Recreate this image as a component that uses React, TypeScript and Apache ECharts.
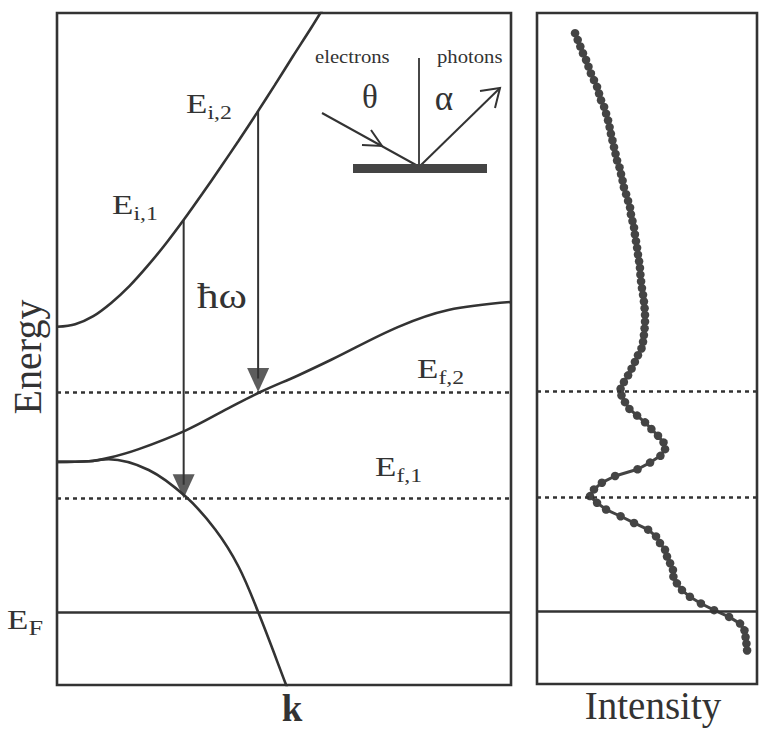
import { useEffect, useRef } from 'react';
import * as echarts from 'echarts';

// Band structure E(k): points read along each band
const upperBandK = [0, 4, 8, 12, 16, 20, 24, 28, 32, 36, 40, 44, 48, 52, 56, 60];
const upperBandE = [53.3, 53.7, 54.9, 56.9, 59.4, 62.4, 65.7, 69.3, 73.1, 77.0, 81.0, 85.1, 89.3, 93.6, 97.8, 102.2];

const middleBandK = [0, 7, 11.4, 18, 28.4, 37.8, 44.8, 53.2, 60.4, 75.2, 86.2, 100];
const middleBandE = [33.2, 33.3, 33.8, 35.1, 37.9, 41.2, 43.6, 46.1, 48.4, 53.3, 55.8, 57.0];

const lowerBandK = [0, 7, 11.4, 20.2, 28.4, 34.9, 40, 44.4, 50.3, 51];
const lowerBandE = [33.2, 33.3, 33.6, 32.0, 28.0, 23.1, 17.6, 10.7, 0.3, -1];

// Final-state energies (E_f,2 and E_f,1) and the Fermi level
const finalStateLevels = [43.6, 27.8];
const fermiLevel = 10.9;

// Radiative transitions ħω: k position, initial and final energy
const transitionK = [27.9, 44.3];
const transitionFrom = [69.2, 85.4];
const transitionTo = [27.8, 43.6];

// Measured spectrum: intensity versus energy
const spectrumEnergy = [
  97, 96, 95, 94, 93, 92, 91, 90, 89, 88,
  87, 86, 85, 84, 83, 82, 81, 80, 79, 78,
  77, 76, 75, 74, 73, 72, 71, 70, 69, 68,
  67, 66, 65, 64, 63, 62, 61, 60, 59, 58,
  57, 56, 55, 54, 53, 52, 51, 50, 49, 48,
  47, 46, 45, 44, 43, 42, 41, 40, 39, 38,
  37, 36, 35, 34, 33, 32, 31, 30, 29, 28,
  27, 26, 25, 24, 23, 22, 21, 20, 19, 18,
  17, 16, 15, 14, 13, 12, 11, 10, 9, 8,
  7, 6, 5,
];
const spectrumIntensity = [
  17.3, 18.5, 19.7, 20.9, 22.3, 23.4, 24.5, 25.9, 27.3, 28.2,
  29.1, 30.5, 31.4, 32.3, 33.0, 33.6, 34.3, 35.0, 35.7, 36.4,
  37.5, 38.2, 38.9, 39.5, 40.5, 41.4, 42.3, 42.7, 43.4, 44.1,
  44.5, 45.0, 45.5, 45.9, 46.4, 46.8, 47.0, 47.3, 47.7, 48.2,
  48.6, 48.9, 49.1, 49.1, 48.9, 48.6, 48.2, 47.5, 45.9, 44.5,
  43.0, 41.4, 39.5, 38.0, 38.4, 40.0, 42.0, 45.5, 49.1, 52.0,
  55.0, 57.5, 58.2, 56.1, 51.4, 45.7, 35.5, 29.5, 25.9, 24.1,
  27.3, 31.4, 38.0, 44.1, 50.5, 54.1, 55.9, 58.2, 59.1, 60.5,
  61.8, 62.0, 63.6, 65.9, 69.5, 74.5, 80.5, 87.3, 92.3, 94.3,
  94.8, 95.2, 95.5,
];

const INK = '#333333';
const SERIF = '"Liberation Serif", "Times New Roman", serif';

const zip = (a: number[], b: number[]) => a.map((v, i) => [v, b[i]]);

function levelLabel(x: number, y: number, sub: string, subSize = 19) {
  return {
    type: 'text',
    x,
    y,
    scaleX: 1.25,
    style: {
      text: `{e|E}{s|${sub}}`,
      fill: INK,
      align: 'left',
      verticalAlign: 'middle',
      rich: {
        e: { fontFamily: SERIF, fontSize: 28, lineHeight: 36, fill: INK },
        s: { fontFamily: SERIF, fontSize: subSize, lineHeight: 19, verticalAlign: 'bottom', fill: INK },
      },
    },
  };
}

function buildOption() {
  const bandLine = (data: number[][], smooth: number) => ({
    type: 'line',
    xAxisIndex: 0,
    yAxisIndex: 0,
    data,
    smooth,
    symbol: 'none',
    clip: true,
    lineStyle: { color: INK, width: 2.6 },
    silent: true,
  });

  const levelMarks = {
    silent: true,
    symbol: ['none', 'none'],
    label: { show: false },
    data: [
      ...finalStateLevels.map((v) => ({
        yAxis: v,
        lineStyle: { color: INK, width: 2.5, type: [4, 4] },
      })),
      { yAxis: fermiLevel, lineStyle: { color: INK, width: 2.6, type: 'solid' } },
    ],
  };

  const transitionShafts = transitionK.map((k, i) => ({
    type: 'line',
    xAxisIndex: 0,
    yAxisIndex: 0,
    data: [
      [k, transitionFrom[i]],
      [k, transitionTo[i] + 2],
    ],
    symbol: 'none',
    lineStyle: { color: INK, width: 2 },
    silent: true,
  }));

  const axisOff = (gridIndex: number) => ({
    type: 'value',
    gridIndex,
    min: 0,
    max: 100,
    show: false,
  });

  return {
    animation: false,
    backgroundColor: '#ffffff',
    grid: [
      { left: 57, top: 13, width: 454, height: 672, show: true, borderColor: INK, borderWidth: 2.6 },
      { left: 537, top: 13, width: 220, height: 671, show: true, borderColor: INK, borderWidth: 2.6 },
    ],
    xAxis: [axisOff(0), axisOff(1)],
    yAxis: [axisOff(0), axisOff(1)],
    series: [
      { ...bandLine(zip(upperBandK, upperBandE), 0.3), markLine: levelMarks },
      bandLine(zip(middleBandK, middleBandE), 0.35),
      bandLine(zip(lowerBandK, lowerBandE), 0.35),
      ...transitionShafts,
      {
        type: 'scatter',
        xAxisIndex: 0,
        yAxisIndex: 0,
        data: zip(transitionK, transitionTo),
        symbol: 'triangle',
        symbolSize: [22, 24],
        symbolRotate: 180,
        symbolOffset: [0, -12],
        itemStyle: { color: INK },
        silent: true,
      },
      {
        type: 'line',
        xAxisIndex: 1,
        yAxisIndex: 1,
        data: zip(spectrumIntensity, spectrumEnergy),
        symbol: 'circle',
        symbolSize: 8.5,
        showAllSymbol: true,
        lineStyle: { color: '#444444', width: 3 },
        itemStyle: { color: '#444444' },
        markLine: levelMarks,
        silent: true,
      },
    ],
    graphic: [
      levelLabel(186, 104, 'i,2'),
      levelLabel(112, 205, 'i,1'),
      levelLabel(417, 369, 'f,2'),
      levelLabel(375, 467, 'f,1'),
      levelLabel(7, 620, 'F', 21),
      {
        type: 'text',
        x: 197,
        y: 296,
        scaleX: 1.2,
        style: { text: '\u0127\u03c9', fontFamily: SERIF, fontSize: 36, fill: INK, align: 'left', verticalAlign: 'middle' },
      },
      {
        type: 'text',
        x: 27,
        y: 357,
        rotation: Math.PI / 2,
        style: { text: 'Energy', fontFamily: SERIF, fontSize: 40, fill: INK, align: 'center', verticalAlign: 'middle' },
      },
      {
        type: 'text',
        x: 292,
        y: 708,
        style: { text: 'k', fontFamily: SERIF, fontSize: 37, fontWeight: 'bold', fill: INK, align: 'center', verticalAlign: 'middle' },
      },
      {
        type: 'text',
        x: 653,
        y: 705,
        style: { text: 'Intensity', fontFamily: SERIF, fontSize: 39, fill: INK, align: 'center', verticalAlign: 'middle' },
      },
      // Inset: electrons in, photons out, from a surface
      {
        type: 'text',
        x: 315,
        y: 57,
        scaleX: 1.15,
        style: { text: 'electrons', fontFamily: SERIF, fontSize: 18, fill: INK, align: 'left', verticalAlign: 'middle' },
      },
      {
        type: 'text',
        x: 437,
        y: 57,
        scaleX: 1.15,
        style: { text: 'photons', fontFamily: SERIF, fontSize: 18, fill: INK, align: 'left', verticalAlign: 'middle' },
      },
      {
        type: 'text',
        x: 370,
        y: 97,
        style: { text: '\u03b8', fontFamily: SERIF, fontSize: 33, fill: INK, align: 'center', verticalAlign: 'middle' },
      },
      {
        type: 'text',
        x: 444,
        y: 98,
        style: { text: '\u03b1', fontFamily: SERIF, fontSize: 35, fill: INK, align: 'center', verticalAlign: 'middle' },
      },
      { type: 'line', shape: { x1: 419, y1: 58, x2: 419, y2: 165 }, style: { stroke: INK, lineWidth: 1.8 } },
      { type: 'line', shape: { x1: 322, y1: 113, x2: 416, y2: 165 }, style: { stroke: INK, lineWidth: 2 } },
      {
        type: 'polyline',
        shape: { points: [[371, 130], [382, 146], [362, 145]] },
        style: { stroke: INK, lineWidth: 2, fill: 'none' },
      },
      { type: 'line', shape: { x1: 421, y1: 165, x2: 500, y2: 88 }, style: { stroke: INK, lineWidth: 2 } },
      {
        type: 'polyline',
        shape: { points: [[480, 91], [500, 88], [495, 108]] },
        style: { stroke: INK, lineWidth: 2, fill: 'none' },
      },
      { type: 'rect', shape: { x: 353, y: 164, width: 134, height: 9 }, style: { fill: '#444444' } },
    ],
  };
}

export default function App() {
  const ref = useRef<HTMLDivElement>(null);
  useEffect(() => {
    document.body.style.margin = '0';
    const chart = echarts.init(ref.current!, null, { renderer: 'svg' });
    chart.setOption(buildOption() as any);
    return () => chart.dispose();
  }, []);
  return <div ref={ref} style={{ width: 759, height: 729 }} />;
}
